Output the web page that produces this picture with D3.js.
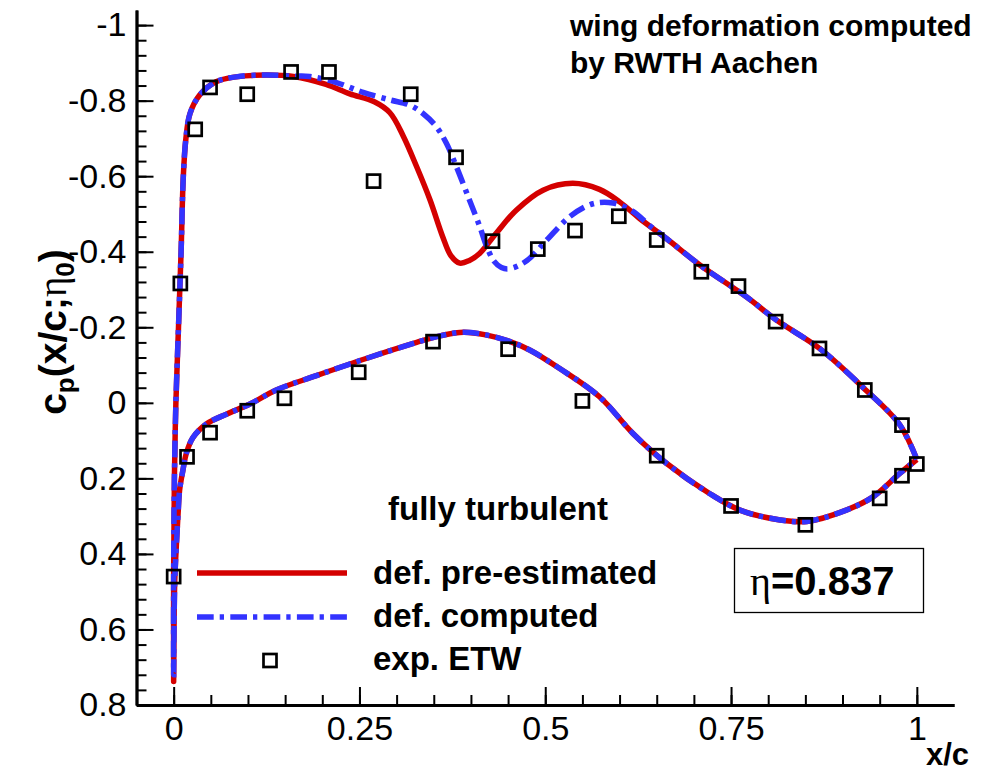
<!DOCTYPE html>
<html>
<head>
<meta charset="utf-8">
<script src="https://cdn.jsdelivr.net/npm/d3@7"></script>
<style>
  body { margin: 0; background: #fff; }
  text { font-family: 'Liberation Sans', Arial, Helvetica, sans-serif; fill: #000; }
</style>
</head>
<body>
<div id="chart"></div>
<script>
// pressure distribution, eta = 0.837 section

// deformation pre-estimated, upper surface (x/c, cp), leading edge -> trailing edge
const preUpper = [
  [0.000, 0.738], [0.000, 0.45], [0.001, 0.2], [0.003, 0.0], [0.0065, -0.2],
  [0.010, -0.4], [0.013, -0.6], [0.0165, -0.7], [0.022, -0.766], [0.035, -0.815],
  [0.057, -0.850], [0.084, -0.863], [0.125, -0.868], [0.161, -0.864], [0.205, -0.843],
  [0.237, -0.818], [0.270, -0.797], [0.291, -0.768], [0.309, -0.706], [0.327, -0.625],
  [0.345, -0.537], [0.362, -0.44], [0.373, -0.39], [0.385, -0.37], [0.398, -0.377],
  [0.412, -0.396], [0.434, -0.449], [0.461, -0.510], [0.497, -0.563], [0.537, -0.581],
  [0.573, -0.565], [0.600, -0.532], [0.627, -0.488], [0.663, -0.435], [0.708, -0.365],
  [0.771, -0.280], [0.811, -0.219], [0.869, -0.144], [0.928, -0.040], [0.977, 0.058],
  [1.000, 0.150]
]

// lower surface, both deformations give the same curve here
const preLower = [
  [0.000, 0.738], [0.0005, 0.60], [0.0015, 0.469], [0.004, 0.363], [0.006, 0.292],
  [0.008, 0.231], [0.0125, 0.178], [0.017, 0.134], [0.026, 0.092], [0.044, 0.056],
  [0.071, 0.030], [0.102, 0.004], [0.138, -0.034], [0.192, -0.072], [0.260, -0.118],
  [0.327, -0.160], [0.360, -0.178], [0.390, -0.187], [0.420, -0.180], [0.450, -0.164],
  [0.479, -0.140], [0.520, -0.090], [0.573, -0.016], [0.618, 0.081], [0.663, 0.160],
  [0.721, 0.240], [0.762, 0.284], [0.816, 0.310], [0.852, 0.314], [0.905, 0.284],
  [0.941, 0.249], [0.977, 0.187], [1.000, 0.150]
]

// deformation computed, upper surface
const compUpper = [
  [0.000, 0.72], [0.000, 0.45], [0.001, 0.2], [0.003, 0.0], [0.0065, -0.2],
  [0.010, -0.4], [0.013, -0.6], [0.0165, -0.7], [0.022, -0.766], [0.035, -0.815],
  [0.057, -0.850], [0.084, -0.863], [0.125, -0.868], [0.161, -0.865], [0.183, -0.864],
  [0.219, -0.848], [0.255, -0.822], [0.291, -0.802], [0.318, -0.788], [0.3355, -0.766],
  [0.3535, -0.731], [0.367, -0.687], [0.3805, -0.625], [0.398, -0.537], [0.412, -0.466],
  [0.421, -0.415], [0.431, -0.375], [0.441, -0.358], [0.452, -0.355], [0.475, -0.376],
  [0.502, -0.431], [0.533, -0.493], [0.564, -0.527], [0.591, -0.529], [0.618, -0.507],
  [0.640, -0.470], [0.663, -0.435], [0.708, -0.365], [0.771, -0.280], [0.811, -0.219],
  [0.869, -0.144], [0.928, -0.040], [0.977, 0.058], [1.000, 0.150]
]
const compLower = [[0.000, 0.72]].concat(preLower.slice(1))

// ETW measurements
const expUpper = [
  [0.009, -0.316], [0.029, -0.724], [0.049, -0.835], [0.099, -0.817], [0.158, -0.876],
  [0.209, -0.876], [0.269, -0.587], [0.319, -0.817], [0.380, -0.650], [0.429, -0.428],
  [0.490, -0.407], [0.540, -0.456], [0.599, -0.494], [0.650, -0.431], [0.710, -0.347],
  [0.760, -0.309], [0.810, -0.215], [0.869, -0.144], [0.930, -0.034], [0.980, 0.059],
  [1.000, 0.162]
]
const expLower = [
  [0.000, 0.460], [0.018, 0.143], [0.049, 0.079], [0.099, 0.021], [0.149, -0.012],
  [0.249, -0.081], [0.349, -0.162], [0.450, -0.142], [0.550, -0.005], [0.650, 0.140],
  [0.750, 0.273], [0.850, 0.323], [0.950, 0.253], [0.980, 0.193]
]

const xTicks = [0, 0.25, 0.5, 0.75, 1]
const yTicks = [-1, -0.8, -0.6, -0.4, -0.2, 0, 0.2, 0.4, 0.6, 0.8]
const xMinor = d3.range(0, 21).map(i => i * 0.05)
const yMinor = d3.range(0, 46).map(i => -1 + i * 0.04)

const red = '#d40000'
const blue = '#3333ff'

const width = 994
const height = 773

const svg = d3
  .select('#chart')
  .append('svg')
  .attr('width', width)
  .attr('height', height)

const x = d3.scaleLinear().domain([-0.05, 1.05]).range([136.5, 954])
const y = d3.scaleLinear().domain([-1.04, 0.8]).range([10, 705])

const fmt = d => String(+d.toFixed(2))

// axes, ticks point inward
svg.append('g')
  .attr('transform', `translate(${x.range()[0]},0)`)
  .call(d3.axisLeft(y).tickValues(yMinor).tickSize(-10).tickSizeOuter(0).tickFormat(''))
svg.append('g')
  .attr('transform', `translate(${x.range()[0]},0)`)
  .call(d3.axisLeft(y).tickValues(yTicks).tickSize(-17).tickSizeOuter(0).tickPadding(10).tickFormat(fmt))

svg.append('g')
  .attr('transform', `translate(0,${y.range()[1]})`)
  .call(d3.axisBottom(x).tickValues(xMinor).tickSize(-10).tickSizeOuter(0).tickFormat(''))
svg.append('g')
  .attr('transform', `translate(0,${y.range()[1]})`)
  .call(d3.axisBottom(x).tickValues(xTicks).tickSize(-18).tickSizeOuter(0).tickPadding(11).tickFormat(fmt))

svg.selectAll('.domain').attr('stroke', '#000').attr('stroke-width', 2.8)
svg.selectAll('.tick line').attr('stroke', '#000').attr('stroke-width', 2)
svg.selectAll('.tick text').attr('font-size', 34).attr('font-family', "'Liberation Sans', Arial, sans-serif").attr('fill', '#000')

// axis titles
svg.append('text')
  .attr('x', 926)
  .attr('y', 765)
  .attr('font-size', 31)
  .attr('font-weight', 'bold')
  .text('x/c')

const yLab = svg.append('text')
  .attr('transform', 'translate(66,332) rotate(-90)')
  .attr('text-anchor', 'middle')
  .attr('font-size', 39)
  .attr('font-weight', 'bold')
yLab.append('tspan').text('c')
yLab.append('tspan').attr('font-size', 26).attr('dy', 8).text('p')
yLab.append('tspan').attr('dy', -8).text('(x/c;')
yLab.append('tspan').attr('font-family', "'Liberation Serif', 'Times New Roman', serif").attr('font-weight', 'normal').text('η')
yLab.append('tspan').attr('font-size', 26).attr('dy', 8).text('0')
yLab.append('tspan').attr('dy', -8).text(')')

// curves
const line = d3.line()
  .x(d => x(d[0]))
  .y(d => y(d[1]))
  .curve(d3.curveCatmullRom.alpha(0.5))

const loop = (upper, lower) => upper.slice().reverse().concat(lower.slice(1))

svg.append('path')
  .attr('d', line(loop(preUpper, preLower)))
  .attr('fill', 'none')
  .attr('stroke', red)
  .attr('stroke-width', 5.5)
  .attr('stroke-linejoin', 'round')

svg.append('path')
  .attr('d', line(loop(compUpper, compLower)))
  .attr('fill', 'none')
  .attr('stroke', blue)
  .attr('stroke-width', 5.5)
  .attr('stroke-dasharray', '16.7 6 4.3 6.3')

// squares
svg.selectAll('rect.exp')
  .data(expUpper.concat(expLower))
  .enter()
  .append('rect')
  .attr('class', 'exp')
  .attr('x', d => x(d[0]) - 6.5)
  .attr('y', d => y(d[1]) - 6.5)
  .attr('width', 13)
  .attr('height', 13)
  .attr('fill', 'none')
  .attr('stroke', '#000')
  .attr('stroke-width', 2.7)

// annotations
svg.append('text')
  .attr('x', 570).attr('y', 36)
  .attr('font-size', 30).attr('font-weight', 'bold')
  .text('wing deformation computed')
svg.append('text')
  .attr('x', 570).attr('y', 73)
  .attr('font-size', 30).attr('font-weight', 'bold')
  .text('by RWTH Aachen')

svg.append('text')
  .attr('x', 388).attr('y', 520)
  .attr('font-size', 33).attr('font-weight', 'bold')
  .text('fully turbulent')

// legend
const legend = svg.append('g')

legend.append('line')
  .attr('x1', 197).attr('x2', 347).attr('y1', 573).attr('y2', 573)
  .attr('stroke', red).attr('stroke-width', 5.5)
legend.append('line')
  .attr('x1', 197).attr('x2', 347).attr('y1', 617).attr('y2', 617)
  .attr('stroke', blue).attr('stroke-width', 5.5)
  .attr('stroke-dasharray', '16.7 6 4.3 6.3')
legend.append('rect')
  .attr('x', 263.5).attr('y', 654).attr('width', 13).attr('height', 13)
  .attr('fill', 'none').attr('stroke', '#000').attr('stroke-width', 2.7)

const legendText = ['def. pre-estimated', 'def. computed', 'exp. ETW']
legend.selectAll('text')
  .data(legendText)
  .enter()
  .append('text')
  .attr('x', 373)
  .attr('y', (d, i) => [584, 627, 670][i])
  .attr('font-size', 33)
  .attr('font-weight', 'bold')
  .text(d => d)

// section label
svg.append('rect')
  .attr('x', 734.5).attr('y', 548.5).attr('width', 189).attr('height', 64)
  .attr('fill', 'none').attr('stroke', '#000').attr('stroke-width', 1.3)
const eta = svg.append('text')
  .attr('x', 750).attr('y', 595)
  .attr('font-size', 40).attr('font-weight', 'bold')
eta.append('tspan')
  .attr('font-family', "'Liberation Serif', 'Times New Roman', serif")
  .attr('font-weight', 'normal')
  .text('η')
eta.append('tspan').text('=0.837')
</script>
</body>
</html>
